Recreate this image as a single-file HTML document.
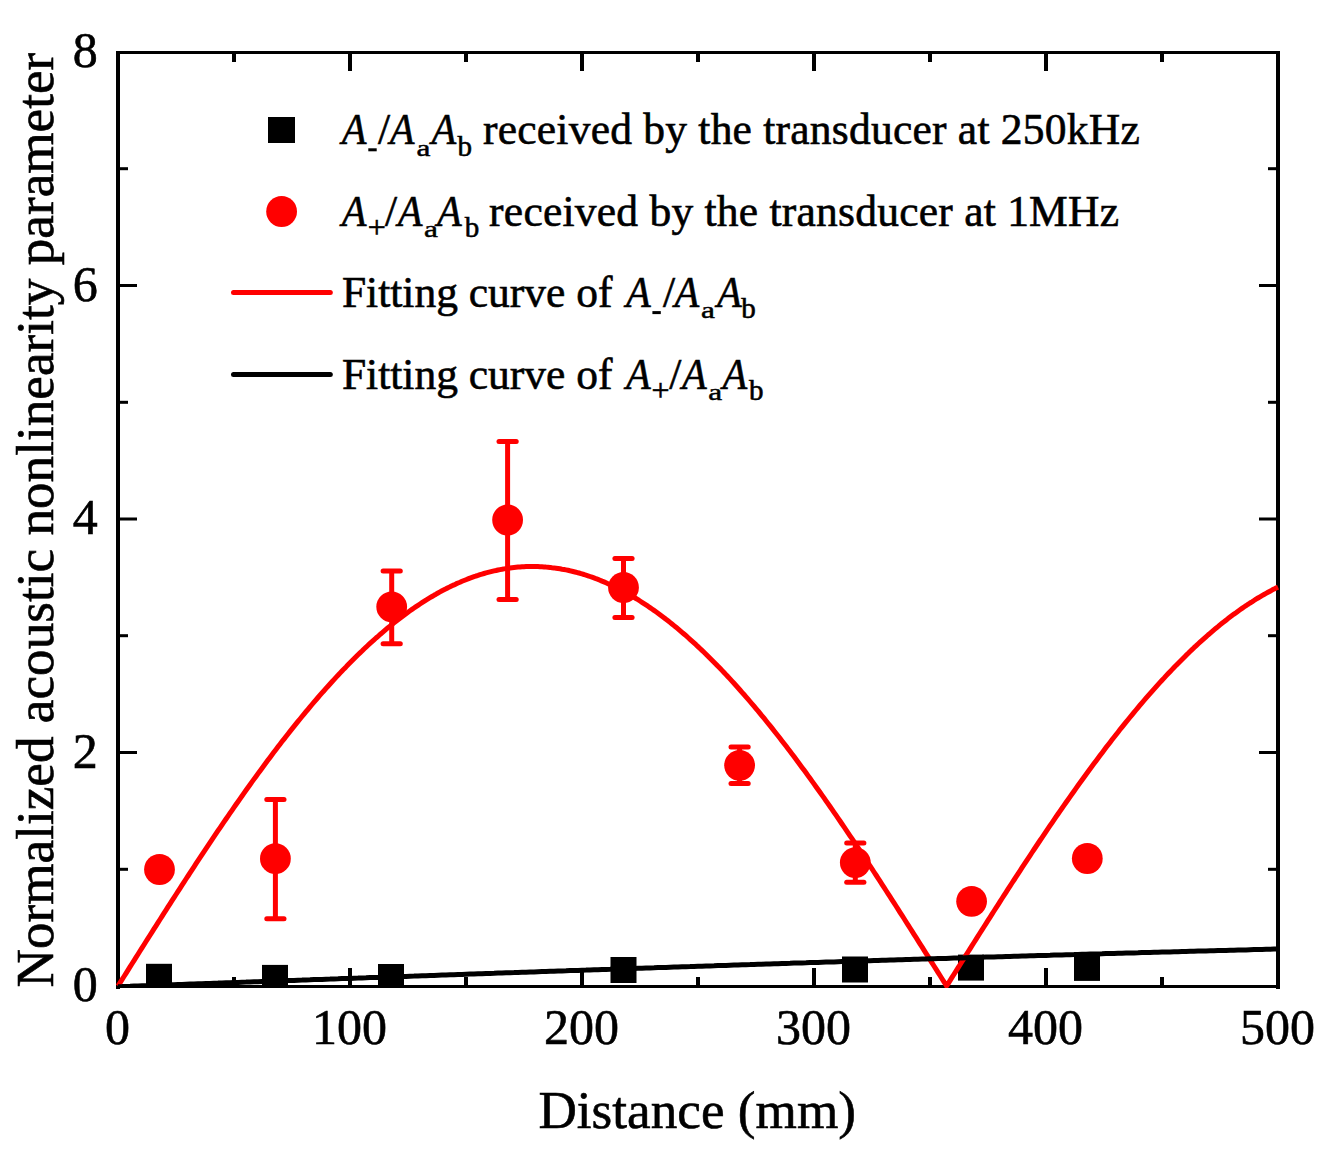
<!DOCTYPE html>
<html><head><meta charset="utf-8"><style>
html,body{margin:0;padding:0;background:#fff;}
body{width:1325px;height:1151px;overflow:hidden;}
svg{display:block;}
text{font-family:"Liberation Serif",serif;fill:#000;stroke:#000;stroke-width:0.6px;}
.it{font-style:italic;}
</style></head><body>
<svg width="1325" height="1151" viewBox="0 0 1325 1151">
<rect x="0" y="0" width="1325" height="1151" fill="#fff"/>
<rect x="116" y="51" width="1164" height="3" fill="#000"/><rect x="116" y="985" width="1164" height="3" fill="#000"/><rect x="116" y="51" width="4" height="938" fill="#000"/><rect x="1276" y="51" width="4" height="938" fill="#000"/><rect x="232.0" y="977" width="4" height="8" fill="#000"/><rect x="232.0" y="54" width="4" height="8" fill="#000"/><rect x="348.0" y="968" width="4" height="17" fill="#000"/><rect x="348.0" y="54" width="4" height="17" fill="#000"/><rect x="464.0" y="977" width="4" height="8" fill="#000"/><rect x="464.0" y="54" width="4" height="8" fill="#000"/><rect x="580.0" y="968" width="4" height="17" fill="#000"/><rect x="580.0" y="54" width="4" height="17" fill="#000"/><rect x="696.0" y="977" width="4" height="8" fill="#000"/><rect x="696.0" y="54" width="4" height="8" fill="#000"/><rect x="812.0" y="968" width="4" height="17" fill="#000"/><rect x="812.0" y="54" width="4" height="17" fill="#000"/><rect x="928.0" y="977" width="4" height="8" fill="#000"/><rect x="928.0" y="54" width="4" height="8" fill="#000"/><rect x="1044.0" y="968" width="4" height="17" fill="#000"/><rect x="1044.0" y="54" width="4" height="17" fill="#000"/><rect x="1160.0" y="977" width="4" height="8" fill="#000"/><rect x="1160.0" y="54" width="4" height="8" fill="#000"/><rect x="120" y="867.8" width="8" height="3" fill="#000"/><rect x="1268" y="867.8" width="8" height="3" fill="#000"/><rect x="120" y="751.0" width="17" height="3" fill="#000"/><rect x="1259" y="751.0" width="17" height="3" fill="#000"/><rect x="120" y="634.2" width="8" height="3" fill="#000"/><rect x="1268" y="634.2" width="8" height="3" fill="#000"/><rect x="120" y="517.5" width="17" height="3" fill="#000"/><rect x="1259" y="517.5" width="17" height="3" fill="#000"/><rect x="120" y="400.8" width="8" height="3" fill="#000"/><rect x="1268" y="400.8" width="8" height="3" fill="#000"/><rect x="120" y="284.0" width="17" height="3" fill="#000"/><rect x="1259" y="284.0" width="17" height="3" fill="#000"/><rect x="120" y="167.2" width="8" height="3" fill="#000"/><rect x="1268" y="167.2" width="8" height="3" fill="#000"/><defs><clipPath id="pc"><rect x="116" y="51" width="1164" height="937"/></clipPath></defs><g clip-path="url(#pc)"><rect x="146.0" y="963.8" width="26" height="26" fill="#000"/><rect x="262.0" y="964.9" width="26" height="26" fill="#000"/><rect x="378.0" y="964.0" width="26" height="26" fill="#000"/><rect x="610.5" y="957.0" width="26" height="26" fill="#000"/><rect x="842.0" y="956.5" width="26" height="26" fill="#000"/><rect x="958.0" y="954.6" width="26" height="26" fill="#000"/><rect x="1074.0" y="954.9" width="26" height="26" fill="#000"/><path d="M118.0,986.0 L120.0,982.8 L122.0,979.6 L124.0,976.5 L126.0,973.3 L128.0,970.1 L130.0,966.9 L132.0,963.7 L134.0,960.6 L136.0,957.4 L138.0,954.2 L140.0,951.0 L142.0,947.9 L144.0,944.7 L146.0,941.5 L148.0,938.4 L150.0,935.2 L152.0,932.1 L154.0,928.9 L156.0,925.8 L158.0,922.6 L160.0,919.5 L162.0,916.3 L164.0,913.2 L166.0,910.1 L168.0,906.9 L170.0,903.8 L172.0,900.7 L174.0,897.6 L176.0,894.5 L178.0,891.4 L180.0,888.3 L182.0,885.2 L184.0,882.1 L186.0,879.0 L188.0,876.0 L190.0,872.9 L192.0,869.8 L194.0,866.8 L196.0,863.7 L198.0,860.7 L200.0,857.7 L202.0,854.6 L204.0,851.6 L206.0,848.6 L208.0,845.6 L210.0,842.6 L212.0,839.6 L214.0,836.7 L216.0,833.7 L218.0,830.7 L220.0,827.8 L222.0,824.8 L224.0,821.9 L226.0,819.0 L228.0,816.1 L230.0,813.2 L232.0,810.3 L234.0,807.4 L236.0,804.5 L238.0,801.7 L240.0,798.8 L242.0,796.0 L244.0,793.1 L246.0,790.3 L248.0,787.5 L250.0,784.7 L252.0,781.9 L254.0,779.1 L256.0,776.4 L258.0,773.6 L260.0,770.9 L262.0,768.2 L264.0,765.5 L266.0,762.8 L268.0,760.1 L270.0,757.4 L272.0,754.7 L274.0,752.1 L276.0,749.5 L278.0,746.8 L280.0,744.2 L282.0,741.6 L284.0,739.1 L286.0,736.5 L288.0,733.9 L290.0,731.4 L292.0,728.9 L294.0,726.4 L296.0,723.9 L298.0,721.4 L300.0,719.0 L302.0,716.5 L304.0,714.1 L306.0,711.7 L308.0,709.3 L310.0,706.9 L312.0,704.5 L314.0,702.2 L316.0,699.8 L318.0,697.5 L320.0,695.2 L322.0,692.9 L324.0,690.7 L326.0,688.4 L328.0,686.2 L330.0,684.0 L332.0,681.8 L334.0,679.6 L336.0,677.4 L338.0,675.3 L340.0,673.1 L342.0,671.0 L344.0,668.9 L346.0,666.9 L348.0,664.8 L350.0,662.8 L352.0,660.8 L354.0,658.8 L356.0,656.8 L358.0,654.8 L360.0,652.9 L362.0,651.0 L364.0,649.0 L366.0,647.2 L368.0,645.3 L370.0,643.4 L372.0,641.6 L374.0,639.8 L376.0,638.0 L378.0,636.3 L380.0,634.5 L382.0,632.8 L384.0,631.1 L386.0,629.4 L388.0,627.7 L390.0,626.1 L392.0,624.5 L394.0,622.9 L396.0,621.3 L398.0,619.7 L400.0,618.2 L402.0,616.7 L404.0,615.2 L406.0,613.7 L408.0,612.2 L410.0,610.8 L412.0,609.4 L414.0,608.0 L416.0,606.6 L418.0,605.3 L420.0,604.0 L422.0,602.7 L424.0,601.4 L426.0,600.1 L428.0,598.9 L430.0,597.7 L432.0,596.5 L434.0,595.3 L436.0,594.2 L438.0,593.0 L440.0,591.9 L442.0,590.8 L444.0,589.8 L446.0,588.8 L448.0,587.7 L450.0,586.8 L452.0,585.8 L454.0,584.9 L456.0,583.9 L458.0,583.0 L460.0,582.2 L462.0,581.3 L464.0,580.5 L466.0,579.7 L468.0,578.9 L470.0,578.1 L472.0,577.4 L474.0,576.7 L476.0,576.0 L478.0,575.4 L480.0,574.7 L482.0,574.1 L484.0,573.5 L486.0,572.9 L488.0,572.4 L490.0,571.9 L492.0,571.4 L494.0,570.9 L496.0,570.5 L498.0,570.0 L500.0,569.6 L502.0,569.3 L504.0,568.9 L506.0,568.6 L508.0,568.3 L510.0,568.0 L512.0,567.7 L514.0,567.5 L516.0,567.3 L518.0,567.1 L520.0,567.0 L522.0,566.8 L524.0,566.7 L526.0,566.6 L528.0,566.6 L530.0,566.5 L532.0,566.5 L534.0,566.5 L536.0,566.5 L538.0,566.6 L540.0,566.7 L542.0,566.8 L544.0,566.9 L546.0,567.1 L548.0,567.2 L550.0,567.4 L552.0,567.7 L554.0,567.9 L556.0,568.2 L558.0,568.5 L560.0,568.8 L562.0,569.2 L564.0,569.5 L566.0,569.9 L568.0,570.3 L570.0,570.8 L572.0,571.2 L574.0,571.7 L576.0,572.2 L578.0,572.8 L580.0,573.3 L582.0,573.9 L584.0,574.5 L586.0,575.2 L588.0,575.8 L590.0,576.5 L592.0,577.2 L594.0,577.9 L596.0,578.7 L598.0,579.4 L600.0,580.2 L602.0,581.1 L604.0,581.9 L606.0,582.8 L608.0,583.7 L610.0,584.6 L612.0,585.5 L614.0,586.5 L616.0,587.4 L618.0,588.5 L620.0,589.5 L622.0,590.5 L624.0,591.6 L626.0,592.7 L628.0,593.8 L630.0,595.0 L632.0,596.1 L634.0,597.3 L636.0,598.5 L638.0,599.7 L640.0,601.0 L642.0,602.3 L644.0,603.6 L646.0,604.9 L648.0,606.2 L650.0,607.6 L652.0,609.0 L654.0,610.4 L656.0,611.8 L658.0,613.2 L660.0,614.7 L662.0,616.2 L664.0,617.7 L666.0,619.3 L668.0,620.8 L670.0,622.4 L672.0,624.0 L674.0,625.6 L676.0,627.2 L678.0,628.9 L680.0,630.6 L682.0,632.3 L684.0,634.0 L686.0,635.7 L688.0,637.5 L690.0,639.3 L692.0,641.1 L694.0,642.9 L696.0,644.7 L698.0,646.6 L700.0,648.5 L702.0,650.4 L704.0,652.3 L706.0,654.2 L708.0,656.2 L710.0,658.2 L712.0,660.2 L714.0,662.2 L716.0,664.2 L718.0,666.3 L720.0,668.3 L722.0,670.4 L724.0,672.5 L726.0,674.6 L728.0,676.8 L730.0,678.9 L732.0,681.1 L734.0,683.3 L736.0,685.5 L738.0,687.7 L740.0,690.0 L742.0,692.3 L744.0,694.5 L746.0,696.8 L748.0,699.1 L750.0,701.5 L752.0,703.8 L754.0,706.2 L756.0,708.6 L758.0,710.9 L760.0,713.4 L762.0,715.8 L764.0,718.2 L766.0,720.7 L768.0,723.2 L770.0,725.6 L772.0,728.1 L774.0,730.7 L776.0,733.2 L778.0,735.7 L780.0,738.3 L782.0,740.9 L784.0,743.5 L786.0,746.1 L788.0,748.7 L790.0,751.3 L792.0,753.9 L794.0,756.6 L796.0,759.3 L798.0,762.0 L800.0,764.7 L802.0,767.4 L804.0,770.1 L806.0,772.8 L808.0,775.6 L810.0,778.3 L812.0,781.1 L814.0,783.9 L816.0,786.7 L818.0,789.5 L820.0,792.3 L822.0,795.1 L824.0,797.9 L826.0,800.8 L828.0,803.7 L830.0,806.5 L832.0,809.4 L834.0,812.3 L836.0,815.2 L838.0,818.1 L840.0,821.0 L842.0,824.0 L844.0,826.9 L846.0,829.8 L848.0,832.8 L850.0,835.8 L852.0,838.7 L854.0,841.7 L856.0,844.7 L858.0,847.7 L860.0,850.7 L862.0,853.7 L864.0,856.8 L866.0,859.8 L868.0,862.8 L870.0,865.9 L872.0,868.9 L874.0,872.0 L876.0,875.0 L878.0,878.1 L880.0,881.2 L882.0,884.3 L884.0,887.4 L886.0,890.5 L888.0,893.6 L890.0,896.7 L892.0,899.8 L894.0,902.9 L896.0,906.0 L898.0,909.1 L900.0,912.3 L902.0,915.4 L904.0,918.5 L906.0,921.7 L908.0,924.8 L910.0,928.0 L912.0,931.1 L914.0,934.3 L916.0,937.4 L918.0,940.6 L920.0,943.8 L922.0,946.9 L924.0,950.1 L926.0,953.3 L928.0,956.4 L930.0,959.6 L932.0,962.8 L934.0,966.0 L936.0,969.1 L938.0,972.3 L940.0,975.5 L942.0,978.7 L944.0,981.9 L946.0,985.0 L946.6,986.0 L948.0,983.8 L950.0,980.6 L952.0,977.4 L954.0,974.2 L956.0,971.1 L958.0,967.9 L960.0,964.7 L962.0,961.5 L964.0,958.3 L966.0,955.2 L968.0,952.0 L970.0,948.8 L972.0,945.7 L974.0,942.5 L976.0,939.3 L978.0,936.2 L980.0,933.0 L982.0,929.9 L984.0,926.7 L986.0,923.6 L988.0,920.4 L990.0,917.3 L992.0,914.1 L994.0,911.0 L996.0,907.9 L998.0,904.8 L1000.0,901.6 L1002.0,898.5 L1004.0,895.4 L1006.0,892.3 L1008.0,889.2 L1010.0,886.1 L1012.0,883.0 L1014.0,880.0 L1016.0,876.9 L1018.0,873.8 L1020.0,870.8 L1022.0,867.7 L1024.0,864.7 L1026.0,861.6 L1028.0,858.6 L1030.0,855.6 L1032.0,852.5 L1034.0,849.5 L1036.0,846.5 L1038.0,843.5 L1040.0,840.5 L1042.0,837.6 L1044.0,834.6 L1046.0,831.6 L1048.0,828.7 L1050.0,825.7 L1052.0,822.8 L1054.0,819.9 L1056.0,816.9 L1058.0,814.0 L1060.0,811.1 L1062.0,808.3 L1064.0,805.4 L1066.0,802.5 L1068.0,799.7 L1070.0,796.8 L1072.0,794.0 L1074.0,791.2 L1076.0,788.3 L1078.0,785.5 L1080.0,782.8 L1082.0,780.0 L1084.0,777.2 L1086.0,774.5 L1088.0,771.7 L1090.0,769.0 L1092.0,766.3 L1094.0,763.6 L1096.0,760.9 L1098.0,758.2 L1100.0,755.5 L1102.0,752.9 L1104.0,750.3 L1106.0,747.6 L1108.0,745.0 L1110.0,742.4 L1112.0,739.8 L1114.0,737.3 L1116.0,734.7 L1118.0,732.2 L1120.0,729.6 L1122.0,727.1 L1124.0,724.6 L1126.0,722.2 L1128.0,719.7 L1130.0,717.2 L1132.0,714.8 L1134.0,712.4 L1136.0,710.0 L1138.0,707.6 L1140.0,705.2 L1142.0,702.9 L1144.0,700.5 L1146.0,698.2 L1148.0,695.9 L1150.0,693.6 L1152.0,691.3 L1154.0,689.1 L1156.0,686.8 L1158.0,684.6 L1160.0,682.4 L1162.0,680.2 L1164.0,678.1 L1166.0,675.9 L1168.0,673.8 L1170.0,671.7 L1172.0,669.6 L1174.0,667.5 L1176.0,665.4 L1178.0,663.4 L1180.0,661.4 L1182.0,659.4 L1184.0,657.4 L1186.0,655.4 L1188.0,653.5 L1190.0,651.5 L1192.0,649.6 L1194.0,647.7 L1196.0,645.9 L1198.0,644.0 L1200.0,642.2 L1202.0,640.4 L1204.0,638.6 L1206.0,636.8 L1208.0,635.0 L1210.0,633.3 L1212.0,631.6 L1214.0,629.9 L1216.0,628.2 L1218.0,626.6 L1220.0,624.9 L1222.0,623.3 L1224.0,621.8 L1226.0,620.2 L1228.0,618.6 L1230.0,617.1 L1232.0,615.6 L1234.0,614.1 L1236.0,612.7 L1238.0,611.2 L1240.0,609.8 L1242.0,608.4 L1244.0,607.0 L1246.0,605.7 L1248.0,604.3 L1250.0,603.0 L1252.0,601.8 L1254.0,600.5 L1256.0,599.2 L1258.0,598.0 L1260.0,596.8 L1262.0,595.6 L1264.0,594.5 L1266.0,593.4 L1268.0,592.3 L1270.0,591.2 L1272.0,590.1 L1274.0,589.1 L1276.0,588.0 L1278.0,587.1" fill="none" stroke="#f00" stroke-width="5" stroke-linejoin="round"/><line x1="275.4" y1="799.6" x2="275.4" y2="918.7" stroke="#f00" stroke-width="5"/><line x1="266.79999999999995" y1="799.6" x2="284.0" y2="799.6" stroke="#f00" stroke-width="5" stroke-linecap="round"/><line x1="266.79999999999995" y1="918.7" x2="284.0" y2="918.7" stroke="#f00" stroke-width="5" stroke-linecap="round"/><line x1="391.7" y1="571" x2="391.7" y2="643.7" stroke="#f00" stroke-width="5"/><line x1="383.09999999999997" y1="571" x2="400.3" y2="571" stroke="#f00" stroke-width="5" stroke-linecap="round"/><line x1="383.09999999999997" y1="643.7" x2="400.3" y2="643.7" stroke="#f00" stroke-width="5" stroke-linecap="round"/><line x1="507.6" y1="441.5" x2="507.6" y2="599.5" stroke="#f00" stroke-width="5"/><line x1="499.0" y1="441.5" x2="516.2" y2="441.5" stroke="#f00" stroke-width="5" stroke-linecap="round"/><line x1="499.0" y1="599.5" x2="516.2" y2="599.5" stroke="#f00" stroke-width="5" stroke-linecap="round"/><line x1="623.5" y1="558.6" x2="623.5" y2="617.4" stroke="#f00" stroke-width="5"/><line x1="614.9" y1="558.6" x2="632.1" y2="558.6" stroke="#f00" stroke-width="5" stroke-linecap="round"/><line x1="614.9" y1="617.4" x2="632.1" y2="617.4" stroke="#f00" stroke-width="5" stroke-linecap="round"/><line x1="739.6" y1="747" x2="739.6" y2="783.4" stroke="#f00" stroke-width="5"/><line x1="731.0" y1="747" x2="748.2" y2="747" stroke="#f00" stroke-width="5" stroke-linecap="round"/><line x1="731.0" y1="783.4" x2="748.2" y2="783.4" stroke="#f00" stroke-width="5" stroke-linecap="round"/><line x1="855.3" y1="843" x2="855.3" y2="882.3" stroke="#f00" stroke-width="5"/><line x1="846.6999999999999" y1="843" x2="863.9" y2="843" stroke="#f00" stroke-width="5" stroke-linecap="round"/><line x1="846.6999999999999" y1="882.3" x2="863.9" y2="882.3" stroke="#f00" stroke-width="5" stroke-linecap="round"/><circle cx="159.5" cy="869.5" r="15.4" fill="#f00"/><circle cx="275.4" cy="858.7" r="15.4" fill="#f00"/><circle cx="391.7" cy="606.8" r="15.4" fill="#f00"/><circle cx="507.6" cy="520" r="15.4" fill="#f00"/><circle cx="623.5" cy="587.5" r="15.4" fill="#f00"/><circle cx="739.6" cy="765.3" r="15.4" fill="#f00"/><circle cx="855.3" cy="862.6" r="15.4" fill="#f00"/><circle cx="971.6" cy="901.3" r="15.4" fill="#f00"/><circle cx="1087.3" cy="858.5" r="15.4" fill="#f00"/><path d="M118.0,986.7 L122.0,986.6 L126.0,986.4 L130.0,986.3 L134.0,986.1 L138.0,986.0 L142.0,985.8 L146.0,985.7 L150.0,985.5 L154.0,985.4 L158.0,985.3 L162.0,985.1 L166.0,985.0 L170.0,984.8 L174.0,984.7 L178.0,984.5 L182.0,984.4 L186.0,984.2 L190.0,984.1 L194.0,984.0 L198.0,983.8 L202.0,983.7 L206.0,983.5 L210.0,983.4 L214.0,983.2 L218.0,983.1 L222.0,982.9 L226.0,982.8 L230.0,982.7 L234.0,982.5 L238.0,982.4 L242.0,982.2 L246.0,982.1 L250.0,981.9 L254.0,981.8 L258.0,981.7 L262.0,981.5 L266.0,981.4 L270.0,981.2 L274.0,981.1 L278.0,980.9 L282.0,980.8 L286.0,980.6 L290.0,980.5 L294.0,980.4 L298.0,980.2 L302.0,980.1 L306.0,979.9 L310.0,979.8 L314.0,979.6 L318.0,979.5 L322.0,979.4 L326.0,979.2 L330.0,979.1 L334.0,978.9 L338.0,978.8 L342.0,978.6 L346.0,978.5 L350.0,978.4 L354.0,978.2 L358.0,978.1 L362.0,977.9 L366.0,977.8 L370.0,977.6 L374.0,977.5 L378.0,977.4 L382.0,977.2 L386.0,977.1 L390.0,976.9 L394.0,976.8 L398.0,976.6 L402.0,976.5 L406.0,976.4 L410.0,976.2 L414.0,976.1 L418.0,975.9 L422.0,975.8 L426.0,975.7 L430.0,975.5 L434.0,975.4 L438.0,975.2 L442.0,975.1 L446.0,975.0 L450.0,974.8 L454.0,974.7 L458.0,974.5 L462.0,974.4 L466.0,974.2 L470.0,974.1 L474.0,974.0 L478.0,973.8 L482.0,973.7 L486.0,973.5 L490.0,973.4 L494.0,973.3 L498.0,973.1 L502.0,973.0 L506.0,972.8 L510.0,972.7 L514.0,972.6 L518.0,972.4 L522.0,972.3 L526.0,972.2 L530.0,972.0 L534.0,971.9 L538.0,971.7 L542.0,971.6 L546.0,971.5 L550.0,971.3 L554.0,971.2 L558.0,971.0 L562.0,970.9 L566.0,970.8 L570.0,970.6 L574.0,970.5 L578.0,970.4 L582.0,970.2 L586.0,970.1 L590.0,969.9 L594.0,969.8 L598.0,969.7 L602.0,969.5 L606.0,969.4 L610.0,969.3 L614.0,969.1 L618.0,969.0 L622.0,968.9 L626.0,968.7 L630.0,968.6 L634.0,968.4 L638.0,968.3 L642.0,968.2 L646.0,968.0 L650.0,967.9 L654.0,967.8 L658.0,967.6 L662.0,967.5 L666.0,967.4 L670.0,967.2 L674.0,967.1 L678.0,967.0 L682.0,966.8 L686.0,966.7 L690.0,966.6 L694.0,966.4 L698.0,966.3 L702.0,966.2 L706.0,966.0 L710.0,965.9 L714.0,965.8 L718.0,965.6 L722.0,965.5 L726.0,965.4 L730.0,965.2 L734.0,965.1 L738.0,965.0 L742.0,964.8 L746.0,964.7 L750.0,964.6 L754.0,964.4 L758.0,964.3 L762.0,964.2 L766.0,964.0 L770.0,963.9 L774.0,963.8 L778.0,963.7 L782.0,963.5 L786.0,963.4 L790.0,963.3 L794.0,963.1 L798.0,963.0 L802.0,962.9 L806.0,962.8 L810.0,962.6 L814.0,962.5 L818.0,962.4 L822.0,962.2 L826.0,962.1 L830.0,962.0 L834.0,961.9 L838.0,961.7 L842.0,961.6 L846.0,961.5 L850.0,961.3 L854.0,961.2 L858.0,961.1 L862.0,961.0 L866.0,960.8 L870.0,960.7 L874.0,960.6 L878.0,960.5 L882.0,960.3 L886.0,960.2 L890.0,960.1 L894.0,960.0 L898.0,959.8 L902.0,959.7 L906.0,959.6 L910.0,959.5 L914.0,959.3 L918.0,959.2 L922.0,959.1 L926.0,959.0 L930.0,958.8 L934.0,958.7 L938.0,958.6 L942.0,958.5 L946.0,958.4 L950.0,958.2 L954.0,958.1 L958.0,958.0 L962.0,957.9 L966.0,957.7 L970.0,957.6 L974.0,957.5 L978.0,957.4 L982.0,957.3 L986.0,957.1 L990.0,957.0 L994.0,956.9 L998.0,956.8 L1002.0,956.7 L1006.0,956.5 L1010.0,956.4 L1014.0,956.3 L1018.0,956.2 L1022.0,956.1 L1026.0,956.0 L1030.0,955.8 L1034.0,955.7 L1038.0,955.6 L1042.0,955.5 L1046.0,955.4 L1050.0,955.3 L1054.0,955.1 L1058.0,955.0 L1062.0,954.9 L1066.0,954.8 L1070.0,954.7 L1074.0,954.6 L1078.0,954.4 L1082.0,954.3 L1086.0,954.2 L1090.0,954.1 L1094.0,954.0 L1098.0,953.9 L1102.0,953.8 L1106.0,953.6 L1110.0,953.5 L1114.0,953.4 L1118.0,953.3 L1122.0,953.2 L1126.0,953.1 L1130.0,953.0 L1134.0,952.9 L1138.0,952.8 L1142.0,952.6 L1146.0,952.5 L1150.0,952.4 L1154.0,952.3 L1158.0,952.2 L1162.0,952.1 L1166.0,952.0 L1170.0,951.9 L1174.0,951.8 L1178.0,951.7 L1182.0,951.5 L1186.0,951.4 L1190.0,951.3 L1194.0,951.2 L1198.0,951.1 L1202.0,951.0 L1206.0,950.9 L1210.0,950.8 L1214.0,950.7 L1218.0,950.6 L1222.0,950.5 L1226.0,950.4 L1230.0,950.3 L1234.0,950.2 L1238.0,950.1 L1242.0,950.0 L1246.0,949.9 L1250.0,949.7 L1254.0,949.6 L1258.0,949.5 L1262.0,949.4 L1266.0,949.3 L1270.0,949.2 L1274.0,949.1 L1278.0,949.0" fill="none" stroke="#000" stroke-width="5"/></g><text x="117.5" y="1044.3" font-size="50" text-anchor="middle">0</text><text x="349.5" y="1044.3" font-size="50" text-anchor="middle">100</text><text x="581.5" y="1044.3" font-size="50" text-anchor="middle">200</text><text x="813.5" y="1044.3" font-size="50" text-anchor="middle">300</text><text x="1045.5" y="1044.3" font-size="50" text-anchor="middle">400</text><text x="1277.5" y="1044.3" font-size="50" text-anchor="middle">500</text><text x="97.8" y="1001.4" font-size="50" text-anchor="end">0</text><text x="97.8" y="767.9" font-size="50" text-anchor="end">2</text><text x="97.8" y="534.4" font-size="50" text-anchor="end">4</text><text x="97.8" y="300.9" font-size="50" text-anchor="end">6</text><text x="97.8" y="67.4" font-size="50" text-anchor="end">8</text><text x="697.2" y="1127.8" font-size="53.2" text-anchor="middle">Distance (mm)</text><text transform="translate(53.2,986) rotate(-90)" x="-1.5" y="0" font-size="53.2">Normalized acoustic nonlinearity parameter</text><rect x="268" y="117" width="27" height="26" fill="#000"/><text transform="translate(341.66,144.00) scale(0.93,1.0)" x="0" y="0" font-size="43.5" class="it">A</text><rect x="368.3" y="148.3" width="8.4" height="3" fill="#000"/><text x="378.0" y="144.0" font-size="43.5">/</text><text transform="translate(389.86,144.00) scale(0.93,1.0)" x="0" y="0" font-size="43.5" class="it">A</text><text transform="translate(416.50,155.50) scale(1.08,0.82)" x="0" y="0" font-size="29">a</text><text transform="translate(431.46,144.00) scale(0.93,1.0)" x="0" y="0" font-size="43.5" class="it">A</text><text x="457.5" y="155.5" font-size="29">b</text><text x="483.0" y="144.0" font-size="43.5" textLength="656.7" lengthAdjust="spacing">received by the transducer at 250kHz</text><circle cx="281.6" cy="211.5" r="15.4" fill="#f00"/><text transform="translate(341.66,226.00) scale(0.93,1.0)" x="0" y="0" font-size="43.5" class="it">A</text><text x="367.7" y="238.0" font-size="32">+</text><text x="385.1" y="226.0" font-size="43.5">/</text><text transform="translate(397.86,226.00) scale(0.93,1.0)" x="0" y="0" font-size="43.5" class="it">A</text><text transform="translate(424.00,237.20) scale(1.08,0.82)" x="0" y="0" font-size="29">a</text><text transform="translate(437.06,226.00) scale(0.93,1.0)" x="0" y="0" font-size="43.5" class="it">A</text><text x="464.8" y="237.2" font-size="29">b</text><text x="489.1" y="226.0" font-size="43.5" textLength="629.9" lengthAdjust="spacing">received by the transducer at 1MHz</text><line x1="233.5" y1="292.4" x2="330.3" y2="292.4" stroke="#f00" stroke-width="5" stroke-linecap="round"/><text x="341.9" y="306.8" font-size="43.5">Fitting curve of</text><text transform="translate(625.96,306.80) scale(0.93,1.0)" x="0" y="0" font-size="43.5" class="it">A</text><rect x="652.4" y="311.1" width="8.4" height="3" fill="#000"/><text x="663.1" y="306.8" font-size="43.5">/</text><text transform="translate(674.56,306.80) scale(0.93,1.0)" x="0" y="0" font-size="43.5" class="it">A</text><text transform="translate(701.00,317.80) scale(1.08,0.82)" x="0" y="0" font-size="29">a</text><text transform="translate(717.06,306.80) scale(0.93,1.0)" x="0" y="0" font-size="43.5" class="it">A</text><text x="741.2" y="317.8" font-size="29">b</text><line x1="233.5" y1="374.6" x2="330.3" y2="374.6" stroke="#000" stroke-width="5" stroke-linecap="round"/><text x="341.9" y="388.8" font-size="43.5">Fitting curve of</text><text transform="translate(625.96,388.80) scale(0.93,1.0)" x="0" y="0" font-size="43.5" class="it">A</text><text x="651.6" y="400.8" font-size="32">+</text><text x="669.3" y="388.8" font-size="43.5">/</text><text transform="translate(682.06,388.80) scale(0.93,1.0)" x="0" y="0" font-size="43.5" class="it">A</text><text transform="translate(708.20,400.30) scale(1.08,0.82)" x="0" y="0" font-size="29">a</text><text transform="translate(722.56,388.80) scale(0.93,1.0)" x="0" y="0" font-size="43.5" class="it">A</text><text x="749.0" y="400.3" font-size="29">b</text></svg></body></html>
